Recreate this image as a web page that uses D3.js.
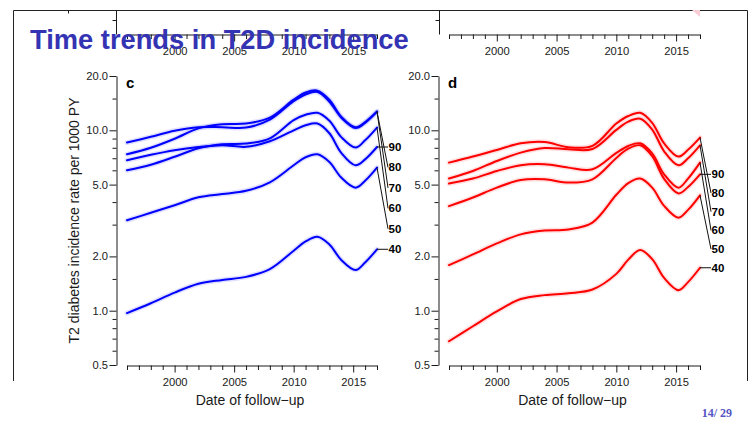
<!DOCTYPE html>
<html>
<head>
<meta charset="utf-8">
<script src="https://cdn.jsdelivr.net/npm/d3@7"></script>
<style>
  html, body { margin: 0; padding: 0; background: #fff; }
  svg { display: block; font-family: "Liberation Sans", Arial, Helvetica, sans-serif; }
</style>
</head>
<body>
<svg id="chart" width="755" height="421"></svg>
<script>
// Follow-up years at which the fitted rates are listed
const years = [1996, 1998, 2000, 2002, 2004, 2006, 2008, 2010, 2011, 2012, 2013, 2014, 2015.2, 2016, 2017];
// Age groups, in the order of the end labels (top to bottom)
const ageGroups = [90, 80, 70, 60, 50, 40];

// Panel c: incidence rates per 1000 PY by age
const ratesC90 = [6.82, 7.31, 7.75, 8.07, 8.26, 8.10, 8.69, 10.0, 10.66, 10.9, 9.63, 7.50, 6.40, 6.90, 8.08];
const ratesC80 = [8.55, 9.20, 9.94, 10.4, 10.4, 10.35, 11.45, 14.5, 15.8, 16.3, 14.4, 11.75, 10.3, 11.0, 12.7];
const ratesC70 = [7.36, 8.00, 8.98, 10.25, 10.8, 10.9, 11.75, 14.8, 16.2, 16.6, 14.8, 11.9, 10.4, 11.1, 12.7];
const ratesC60 = [6.00, 6.44, 7.13, 7.95, 8.36, 8.44, 9.03, 11.4, 12.2, 12.5, 11.3, 9.17, 8.02, 8.80, 10.35];
const ratesC50 = [3.17, 3.49, 3.84, 4.25, 4.43, 4.62, 5.15, 6.40, 7.09, 7.36, 6.67, 5.47, 4.81, 5.25, 6.21];
const ratesC40 = [0.97, 1.10, 1.26, 1.41, 1.48, 1.54, 1.70, 2.15, 2.42, 2.57, 2.33, 1.91, 1.68, 1.85, 2.19];

// Panel d: incidence rates per 1000 PY by age
const ratesD90 = [3.80, 4.24, 4.81, 5.30, 5.35, 5.13, 5.35, 7.03, 7.91, 8.26, 7.18, 5.38, 4.47, 4.85, 5.70];
const ratesD80 = [6.62, 7.15, 7.78, 8.47, 8.61, 8.05, 8.20, 10.9, 12.0, 12.5, 11.0, 8.46, 7.15, 7.80, 9.11];
const ratesD70 = [5.40, 5.95, 6.76, 7.52, 7.98, 7.85, 7.88, 10.06, 11.17, 11.6, 10.1, 7.65, 6.40, 7.00, 8.26];
const ratesD60 = [5.07, 5.40, 5.95, 6.40, 6.48, 6.21, 6.08, 7.49, 8.19, 8.47, 7.44, 5.70, 4.81, 5.40, 6.62];
const ratesD50 = [1.79, 2.05, 2.36, 2.65, 2.78, 2.82, 3.08, 4.39, 5.10, 5.40, 4.81, 3.81, 3.28, 3.62, 4.36];
const ratesD40 = [0.677, 0.82, 0.99, 1.16, 1.22, 1.25, 1.31, 1.60, 1.92, 2.17, 1.93, 1.52, 1.30, 1.44, 1.73];

// Axis ticks
const yMajorTicks = [0.5, 1, 2, 5, 10, 20];
const yMinorTicks = [0.6, 0.7, 0.8, 0.9, 1.5, 3, 4, 6, 7, 8, 9, 15];
const xTickYears = d3.range(1996, 2018);
const xLabelYears = [2000, 2005, 2010, 2015];

const titleText = "Time trends in T2D incidence";
const yAxisTitle = "T2 diabetes incidence rate per 1000 PY";
const xAxisTitle = "Date of follow\u2212up";
const pageLabel = "14/ 29";

const seriesC = [ratesC90, ratesC80, ratesC70, ratesC60, ratesC50, ratesC40];
const seriesD = [ratesD90, ratesD80, ratesD70, ratesD60, ratesD50, ratesD40];

const svg = d3.select("#chart");
const ink = "#1a1a1a";
const tickFont = 11.2;

// Frame of the embedded figure
const frame = svg.append("g").attr("stroke", "#222").attr("stroke-width", 1).attr("fill", "none");
frame.append("path").attr("d", "M13.5,381 V10.5 H747.5 V381");

// Corner decoration of the slide
svg.append("path").attr("d", "M692,10 L700,10 L700,17 Z").attr("fill", "#f9cdd6");

const y = d3.scaleLog().domain([0.5, 20]).range([365, 76]);

function bottomAxis(g, x, axisY) {
  const axis = d3.axisBottom(x)
    .tickValues(xTickYears)
    .tickSize(4.5)
    .tickSizeOuter(0)
    .tickFormat(d => xLabelYears.includes(d) ? String(d) : "");
  const ag = g.append("g").attr("transform", `translate(0,${axisY})`).call(axis);
  ag.select(".domain").attr("stroke", ink);
  ag.selectAll(".tick line").attr("stroke", ink)
    .attr("y2", d => xLabelYears.includes(d) ? 7 : 4.5);
  ag.selectAll(".tick text")
    .attr("y", 12.5)
    .attr("font-size", tickFont)
    .attr("font-family", "Liberation Sans, Arial, sans-serif")
    .attr("fill", ink);
  return ag;
}

// Remnants of the panels above (cut off by the frame)
function stripAxes(x0, x1, yAxisX) {
  const x = d3.scaleLinear().domain([1996, 2017]).range([x0, x1]);
  const g = svg.append("g");
  g.append("line").attr("x1", yAxisX).attr("x2", yAxisX).attr("y1", 10.5).attr("y2", 34.5)
    .attr("stroke", ink);
  g.append("line").attr("x1", yAxisX - 4).attr("x2", yAxisX).attr("y1", 20.5).attr("y2", 20.5)
    .attr("stroke", ink);
  bottomAxis(g, x, 34.5);
}
stripAxes(127, 377, 116.5);
stripAxes(449, 700, 439.5);
svg.append("line").attr("x1", 68.5).attr("x2", 68.5).attr("y1", 10.5).attr("y2", 13.5).attr("stroke", ink);

function drawPanel(opts) {
  const { x0, x1, series, color, halo, letter, showYTitle } = opts;
  const x = d3.scaleLinear().domain([1996, 2017]).range([x0, x1]);
  const g = svg.append("g");
  const axisX = x0 - 10.5;

  // y axis (log scale)
  const yAxis = d3.axisLeft(y)
    .tickValues(yMajorTicks.concat(yMinorTicks))
    .tickSize(4)
    .tickSizeOuter(0)
    .tickFormat(d => yMajorTicks.includes(d) ? d3.format(".1f")(d) : "");
  const ya = g.append("g").attr("transform", `translate(${axisX},0)`).call(yAxis);
  ya.select(".domain").attr("stroke", ink);
  ya.selectAll(".tick line").attr("stroke", ink)
    .attr("x2", d => yMajorTicks.includes(d) ? -7 : -4);
  ya.selectAll(".tick text")
    .attr("x", -8.5)
    .attr("font-size", tickFont)
    .attr("font-family", "Liberation Sans, Arial, sans-serif")
    .attr("fill", ink);

  // x axis
  bottomAxis(g, x, 365.5);

  // Panel letter
  g.append("text").attr("x", x0 - 1).attr("y", 88)
    .attr("font-size", 15).attr("font-weight", "bold").attr("fill", "#000")
    .text(letter);

  // Axis titles
  g.append("text").attr("x", (x0 + x1) / 2 - 2).attr("y", 405)
    .attr("text-anchor", "middle").attr("font-size", 14).attr("fill", ink)
    .text(xAxisTitle);
  if (showYTitle) {
    g.append("text")
      .attr("transform", `translate(79,220.5) rotate(-90)`)
      .attr("text-anchor", "middle").attr("font-size", 14).attr("fill", ink)
      .text(yAxisTitle);
  }

  // Rate curves with a faint confidence halo
  const line = d3.line()
    .x((d, i) => x(years[i]))
    .y(d => y(d))
    .curve(d3.curveCatmullRom.alpha(0.5));
  const lg = g.append("g").attr("fill", "none").attr("stroke-linejoin", "round").attr("stroke-linecap", "round");
  series.forEach(vals => {
    lg.append("path").attr("d", line(vals)).attr("stroke", halo).attr("stroke-width", 5);
  });
  series.forEach(vals => {
    lg.append("path").attr("d", line(vals)).attr("stroke", color).attr("stroke-width", 2);
  });

  // End labels, spread evenly between the 90 and 40 end points
  const xEnd = x(2017);
  const last = vals => vals[vals.length - 1];
  const yTop = y(last(series[0]));
  const yBot = y(last(series[series.length - 1]));
  const step = (yBot - yTop) / (ageGroups.length - 1);
  ageGroups.forEach((age, i) => {
    const ly = yTop + i * step;
    g.append("line")
      .attr("x1", xEnd).attr("y1", y(last(series[i])))
      .attr("x2", xEnd + 11).attr("y2", ly)
      .attr("stroke", "#111").attr("stroke-width", 1);
    g.append("text").attr("x", xEnd + 11.5).attr("y", ly)
      .attr("dominant-baseline", "central")
      .attr("font-size", 11.5).attr("font-weight", "bold").attr("fill", "#000")
      .text(age);
  });
}

drawPanel({ x0: 127, x1: 377, series: seriesC, color: "#0000ff", halo: "rgba(120,120,255,0.22)", letter: "c", showYTitle: true });
drawPanel({ x0: 449, x1: 700, series: seriesD, color: "#ff0000", halo: "rgba(255,120,120,0.22)", letter: "d", showYTitle: false });

// Slide title and page number
svg.append("text").attr("x", 30).attr("y", 49)
  .attr("font-size", 27.3).attr("font-weight", "bold").attr("fill", "#3333b3")
  .text(titleText);

svg.append("text").attr("x", 732).attr("y", 417).attr("text-anchor", "end")
  .attr("font-family", "Liberation Serif, serif")
  .attr("font-size", 12).attr("font-weight", "bold").attr("fill", "#5555c4")
  .text(pageLabel);
</script>
</body>
</html>
